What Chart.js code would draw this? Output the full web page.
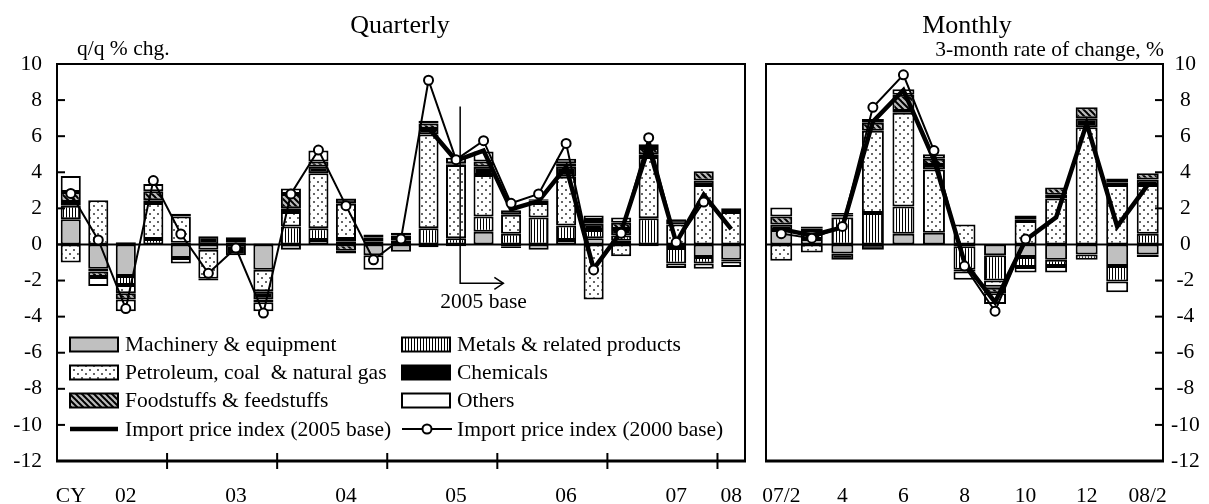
<!DOCTYPE html>
<html>
<head>
<meta charset="utf-8">
<script src="https://cdn.jsdelivr.net/npm/chart.js"></script>
<style>
  body { margin: 0; background: #fff; width: 1209px; height: 504px; overflow: hidden; position: relative; }
  canvas { position: absolute; top: 0; }
  #quarterly { left: 0; }
  #monthly { left: 758px; }
</style>
</head>
<body>
<canvas id="quarterly" width="752" height="504"></canvas>
<canvas id="monthly" width="451" height="504"></canvas>
<script>
// ---- quarterly data (q/q % chg., contributions) ----
const quarterCats = ['02Q1','02Q2','02Q3','02Q4','03Q1','03Q2','03Q3','03Q4','04Q1','04Q2','04Q3','04Q4',
  '05Q1','05Q2','05Q3','05Q4','06Q1','06Q2','06Q3','06Q4','07Q1','07Q2','07Q3','07Q4','08Q1'];
const quarterTickText = ['CY','','02','','','','03','','','','04','','','','05','','','','06','','','','07','','08'];
const qMachinery  = [1.4,-1.35,-1.75,0,-0.75,-0.3,0,-1.4,-0.3,0.25,0.15,-0.6,-0.4,-0.15,-0.1,0.7,0,-0.3,0.25,0.35,0.2,-0.1,-0.2,-0.7,-0.85];
const qMetals     = [0.75,0,-0.5,0.3,0.1,0,0.1,0.05,1.0,0.65,0.15,0.15,0.2,0.9,0.35,0.85,0.6,1.5,0.8,0.45,0.3,1.45,-0.85,-0.35,0];
const qPetroleum  = [-1.0,2.45,-0.45,2.0,1.45,-1.6,0,-1.2,0.8,3.05,1.95,0.1,0.1,5.2,4.05,2.3,1.05,0.8,2.7,-3.05,-0.65,3.4,1.1,3.3,1.8];
const qChemicals  = [0.2,-0.15,0.12,0.15,0.15,0.45,-0.6,-0.45,0.2,0.35,0.3,0.15,0.2,0.3,0.05,0.45,0.25,0.15,0.55,0.35,0.35,0.15,0.3,0.25,-0.1];
const qFoodstuffs = [0.55,-0.3,-0.35,0.5,0,0,0.2,-0.15,0.8,0.3,-0.35,0.15,0.15,0.3,0.05,0.3,-0.1,0.05,0.2,0.2,0.35,0.35,0,0.5,0.2];
const qOthers     = [0.9,-0.5,-0.65,0.4,-0.3,-0.1,0.1,-0.5,0.3,0.6,-0.15,-0.8,0,0.15,0.3,0.55,-0.1,0,0.25,0.25,0.3,0.2,-0.25,-0.3,-0.3];
const qIndex2005  = [null,null,null,null,null,null,null,null,null,null,null,null,null,
  6.45,4.65,5.2,1.95,2.4,4.3,-1.35,0.7,5.4,0.1,2.75,0.85];
const qIndex2000  = [2.83,0.25,-3.55,3.54,0.58,-1.6,-0.2,-3.8,2.8,5.23,2.15,-0.85,0.3,9.1,4.7,5.75,2.28,2.8,5.6,-1.41,0.62,5.92,0.12,2.35,null];

// ---- monthly data (3-month rate of change, %) ----
const monthCats = ['07/2','07/3','07/4','07/5','07/6','07/7','07/8','07/9','07/10','07/11','07/12','08/1','08/2'];
const monthTickText = ['07/2','','4','','6','','8','','10','','12','','08/2'];
const mMachinery  = [0.8,0.3,-0.5,0,0.6,0.65,-0.1,-0.6,-0.7,-0.85,-0.55,-1.2,-0.55];
const mMetals     = [0,0.35,1.5,1.75,1.5,0,-1.3,-1.4,-0.55,-0.35,-0.3,-0.85,0.6];
const mPetroleum  = [-0.9,-0.45,0.05,4.55,5.2,3.5,1.1,-0.35,1.3,2.55,6.5,3.3,2.7];
const mChemicals  = [0.3,0.15,-0.35,-0.3,0.1,0.25,-0.1,-0.05,0.1,0.2,0.5,0.15,0.3];
const mFoodstuffs = [0.45,0.1,0.1,0.45,0.9,0.35,0,-0.3,0.2,0.4,0.6,0.2,0.35];
const mOthers     = [0.5,0.1,0.1,0.2,0.3,0.25,-0.45,-0.6,-0.3,-0.35,0,-0.6,-0.15];
const mIndex2005  = [0.85,0.5,0.95,6.8,8.55,4.7,-1.0,-3.2,0.25,1.5,6.7,1.0,3.3];
const mIndex2000  = [0.6,0.35,1.0,7.6,9.4,5.2,-1.2,-3.7,0.3,null,null,null,null];

const compNames = ['Machinery & equipment','Metals & related products','Petroleum, coal  & natural gas',
  'Chemicals','Foodstuffs & feedstuffs','Others'];

const FONT = '21.5px "Liberation Serif", "Times New Roman", serif';
const TITLE_FONT = '26px "Liberation Serif", "Times New Roman", serif';

function makePattern(w, h, draw) {
  const c = document.createElement('canvas');
  c.width = w; c.height = h;
  const g = c.getContext('2d');
  draw(g);
  return g.createPattern(c, 'repeat');
}
const fillGray = '#c0c0c0';
const fillStripes = makePattern(3, 4, g => {
  g.fillStyle = '#fff'; g.fillRect(0, 0, 3, 4);
  g.fillStyle = '#000'; g.fillRect(0, 0, 1, 4);
});
const fillDots = makePattern(8, 8, g => {
  g.fillStyle = '#fff'; g.fillRect(0, 0, 8, 8);
  g.fillStyle = '#666'; g.fillRect(1, 1, 2, 2); g.fillRect(5, 5, 2, 2);
});
const fillHatch = makePattern(6, 6, g => {
  g.fillStyle = '#bbb'; g.fillRect(0, 0, 6, 6);
  g.strokeStyle = '#000'; g.lineWidth = 2;
  for (let k = -1; k <= 1; k++) {
    g.beginPath(); g.moveTo(-1, -1 + 6 * k); g.lineTo(7, 7 + 6 * k); g.stroke();
  }
});
const compFills = [fillGray, fillStripes, fillDots, '#000', fillHatch, '#fff'];

function buildDatasets(comps, idx05, idx00, barPct) {
  const sets = [
    { type: 'line', label: 'Import price index (2000 base)', data: idx00, stack: 's00', order: 0,
      borderColor: '#000', borderWidth: 2, tension: 0, pointRadius: 4.5, pointBorderWidth: 2,
      pointBackgroundColor: '#fff', pointBorderColor: '#000', spanGaps: false },
    { type: 'line', label: 'Import price index (2005 base)', data: idx05, stack: 's05', order: 1,
      borderColor: '#000', borderWidth: 4.5, tension: 0, pointRadius: 0, spanGaps: false }
  ];
  comps.forEach((d, i) => {
    sets.push({ type: 'bar', label: compNames[i], data: d, stack: 'c', order: 2,
      backgroundColor: compFills[i], borderColor: '#000', borderWidth: 2, borderSkipped: false,
      barPercentage: barPct, categoryPercentage: 1 });
  });
  return sets;
}

// frame, zero line, inner y ticks and texts
function framePlugin(opts) {
  return {
    id: 'frame',
    beforeDatasetsDraw(chart) {
      const { ctx, chartArea: a, scales: { y } } = chart;
      ctx.save();
      ctx.strokeStyle = '#000';
      ctx.lineWidth = 2;
      const y0 = y.getPixelForValue(0);
      ctx.beginPath(); ctx.moveTo(a.left, y0); ctx.lineTo(a.right, y0); ctx.stroke();
      ctx.restore();
    },
    afterDraw(chart) {
      const { ctx, chartArea: a, scales: { x, y } } = chart;
      ctx.save();
      ctx.strokeStyle = '#000';
      ctx.lineWidth = 2;
      ctx.strokeRect(a.left, a.top, a.right - a.left, a.bottom - a.top);
      ctx.lineWidth = 3;
      ctx.beginPath(); ctx.moveTo(a.left - 1, a.bottom); ctx.lineTo(a.right + 1, a.bottom); ctx.stroke();
      ctx.lineWidth = 2;
      for (let v = -10; v <= 8; v += 2) {
        const py = y.getPixelForValue(v);
        ctx.beginPath();
        if (opts.side === 'left') { ctx.moveTo(a.left, py); ctx.lineTo(a.left + 8, py); }
        else { ctx.moveTo(a.right - 8, py); ctx.lineTo(a.right, py); }
        ctx.stroke();
      }
      ctx.fillStyle = '#000';
      ctx.font = TITLE_FONT;
      ctx.textAlign = 'center';
      ctx.textBaseline = 'alphabetic';
      ctx.fillText(opts.title, opts.titleX, 33);
      ctx.font = FONT;
      ctx.textAlign = opts.unitAlign;
      ctx.fillText(opts.unit, opts.unitX, opts.unitY);
      if (opts.extra) opts.extra(chart);
      ctx.restore();
    }
  };
}

function drawQuarterExtras(chart) {
  const { ctx, chartArea: a, scales: { x, y } } = chart;
  // year separators on the time axis
  ctx.lineWidth = 2;
  for (let i = 3.5; i < quarterCats.length - 1; i += 4) {
    const px = x.getPixelForValue(i);
    ctx.beginPath(); ctx.moveTo(px, a.bottom - 8); ctx.lineTo(px, a.bottom + 8); ctx.stroke();
  }
  // 2005 base marker
  ctx.lineWidth = 1.5;
  const vx = x.getPixelForValue(14.15), ax = x.getPixelForValue(15.72);
  const top = y.getPixelForValue(7.65), yy = y.getPixelForValue(-2.15);
  ctx.beginPath(); ctx.moveTo(vx, top); ctx.lineTo(vx, yy); ctx.lineTo(ax, yy); ctx.stroke();
  ctx.beginPath(); ctx.moveTo(ax - 9, yy - 6); ctx.lineTo(ax, yy); ctx.lineTo(ax - 9, yy + 6); ctx.stroke();
  ctx.font = FONT;
  ctx.textAlign = 'center';
  ctx.textBaseline = 'middle';
  ctx.fillText('2005 base', x.getPixelForValue(15.0), y.getPixelForValue(-3.2));

  // legend
  const rows = [344.5, 372.5, 400.5, 429];
  const cols = [{ sx: 70, tx: 125 }, { sx: 402, tx: 457 }];
  ctx.textAlign = 'left';
  for (let i = 0; i < 6; i++) {
    const c = cols[i % 2], r = rows[Math.floor(i / 2)];
    ctx.fillStyle = compFills[i];
    ctx.fillRect(c.sx, r - 7, 48, 14);
    ctx.strokeStyle = '#000'; ctx.lineWidth = 2;
    ctx.strokeRect(c.sx, r - 7, 48, 14);
    ctx.fillStyle = '#000';
    ctx.fillText(compNames[i], c.tx, r + 1);
  }
  const r = rows[3];
  ctx.lineWidth = 4.5;
  ctx.beginPath(); ctx.moveTo(cols[0].sx, r); ctx.lineTo(cols[0].sx + 48, r); ctx.stroke();
  ctx.fillText('Import price index (2005 base)', cols[0].tx, r + 1);
  ctx.lineWidth = 2;
  ctx.beginPath(); ctx.moveTo(cols[1].sx, r); ctx.lineTo(cols[1].sx + 50, r); ctx.stroke();
  ctx.beginPath(); ctx.arc(cols[1].sx + 25, r, 4.5, 0, Math.PI * 2);
  ctx.fillStyle = '#fff'; ctx.fill(); ctx.stroke();
  ctx.fillStyle = '#000';
  ctx.fillText('Import price index (2000 base)', cols[1].tx, r + 1);
}

function axisFont() { return { family: '"Liberation Serif", "Times New Roman", serif', size: 21.5 }; }

function makeChart(id, cats, tickText, comps, idx05, idx00, cfg) {
  return new Chart(document.getElementById(id), {
    type: 'bar',
    data: { labels: cats, datasets: buildDatasets(comps, idx05, idx00, cfg.barPct) },
    options: {
      responsive: false,
      animation: false,
      devicePixelRatio: 1,
      layout: { padding: cfg.padding },
      plugins: { legend: { display: false }, tooltip: { enabled: false } },
      scales: {
        x: {
          stacked: true,
          grid: { display: false, drawTicks: false },
          border: { display: false },
          ticks: { autoSkip: false, maxRotation: 0, minRotation: 0, padding: 22, color: '#000',
            font: axisFont(), callback: (v, i) => tickText[i] },
          afterFit: s => { s.height = 43; s.paddingLeft = 0; s.paddingRight = 0; }
        },
        y: {
          stacked: true,
          position: cfg.side,
          min: -12, max: 10,
          grid: { display: false, drawTicks: false },
          border: { display: false },
          ticks: { stepSize: 2, padding: cfg.tickPad, color: '#000', font: axisFont(),
            crossAlign: cfg.side === 'left' ? 'near' : 'center' },
          afterFit: s => { s.width = cfg.axisWidth; s.paddingTop = 0; s.paddingBottom = 0; }
        }
      }
    },
    plugins: [framePlugin(cfg.frame)]
  });
}

makeChart('quarterly', quarterCats, quarterTickText,
  [qMachinery, qMetals, qPetroleum, qChemicals, qFoodstuffs, qOthers], qIndex2005, qIndex2000, {
    barPct: 0.73, side: 'left', axisWidth: 57, tickPad: 15,
    padding: { top: 64, left: 0, right: 7, bottom: 0 },
    frame: { side: 'left', title: 'Quarterly', titleX: 400, unit: 'q/q % chg.', unitAlign: 'left',
      unitX: 77, unitY: 55, extra: drawQuarterExtras }
  });

makeChart('monthly', monthCats, monthTickText,
  [mMachinery, mMetals, mPetroleum, mChemicals, mFoodstuffs, mOthers], mIndex2005, mIndex2000, {
    barPct: 0.72, side: 'right', axisWidth: 46, tickPad: 8,
    padding: { top: 64, left: 8, right: 0, bottom: 0 },
    frame: { side: 'right', title: 'Monthly', titleX: 209, unit: '3-month rate of change, %', unitAlign: 'right',
      unitX: 406, unitY: 56 }
  });
</script>
</body>
</html>
